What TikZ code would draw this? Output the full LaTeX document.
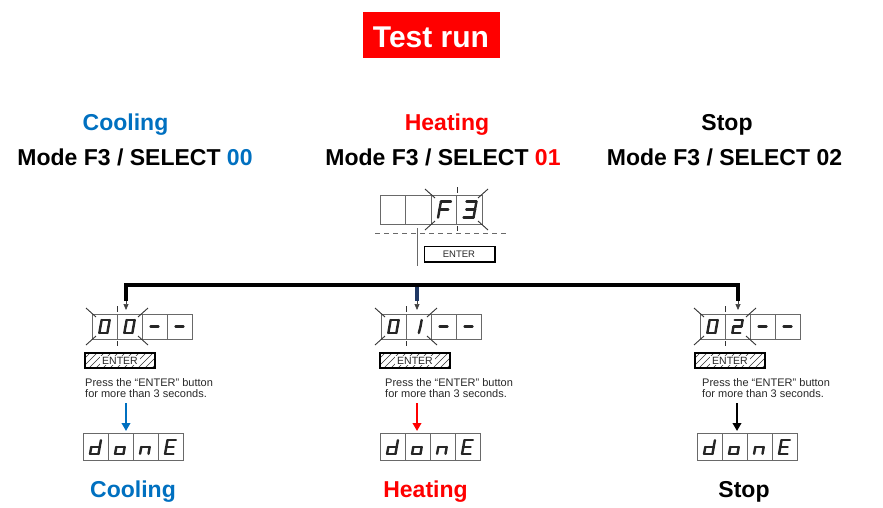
\documentclass[tikz,border=0pt]{standalone}
\usepackage{fontspec}
\setmainfont{Liberation Sans}
\usetikzlibrary{arrows.meta}
\definecolor{cblue}{RGB}{0,112,192}
\definecolor{cred}{RGB}{255,0,0}
\definecolor{cnavy}{RGB}{31,56,100}
\definecolor{cellgray}{RGB}{105,105,105}
\definecolor{txtgray}{RGB}{40,40,40}
% seven segment digit definitions (w=4, h=6.5; y downwards)
\def\sgZero{-4/-6.5/4/-6.5,4/-6.5/4/0,4/0/4/6.5,-4/6.5/4/6.5,-4/0/-4/6.5,-4/-6.5/-4/0}
\def\sgOne{2/-6.5/2/0,2/0/1.5/6.5}
\def\sgTwo{-4/-6.5/4/-6.5,4/-6.5/4/0,-4/0/4/0,-4/0/-4/6.5,-4/6.5/4/6.5}
\def\sgThree{-4/-6.5/4/-6.5,4/-6.5/4/0,-3/0/4/0,4/0/4/6.5,-4/6.5/4/6.5}
\def\sgF{-4/-6.5/4/-6.5,-4/-6.5/-4/0,-4/0/-4/6.5,-4/0/3/0}
\def\sgSmallD{4/-6.5/4/0,4/0/4/6.5,-4/6.5/4/6.5,-4/0/-4/6.5,-4/0/4/0}
\def\sgSmallO{-4/0/4/0,4/0/4/6.5,-4/6.5/4/6.5,-4/0/-4/6.5}
\def\sgSmallN{-4/0/4/0,4/0/4/6.5,-4/0/-4/6.5}
\def\sgE{-4/-6.5/4/-6.5,-4/-6.5/-4/0,-4/0/3/0,-4/0/-4/6.5,-4/6.5/4/6.5}
\def\sgDash{-4/0/4/0}
\newcommand\sdig[4]{%
  \begin{scope}[shift={(#1,#2)},scale=#4,xslant=0.18]
    \foreach \xa/\ya/\xb/\yb in #3 {\draw[seg] (\xa,\ya)--(\xb,\yb);}
  \end{scope}}
\newcommand\cells[5]{%
  \foreach \i in {1,...,#4} {\draw[cell] ({#1+(\i-1)*#3},#2) rectangle ++(#3,#5);}}
\newcommand\flash[5]{% x1 x2 xm y1 y2
  \draw[flashtick] ({#1+4},{#4+3})--({#1-6},{#4-6});
  \draw[flashtick] ({#2-4},{#4+3})--({#2+6},{#4-6});
  \draw[flashtick] ({#1+4},{#5-3})--({#1-6},{#5+6});
  \draw[flashtick] ({#2-4},{#5-3})--({#2+6},{#5+6});
  \draw[flashtick] (#3,{#4-8})--(#3,{#4-2});
  \draw[flashtick] (#3,{#5+2})--(#3,{#5+7});}
\newcommand\hatchbox[5]{% x1 y1 x2 y2 name
  \begin{scope}
    \clip (#1,#2) rectangle (#3,#4);
    \foreach \i in {0,7,...,91} {\draw[hatch] ({#1+\i-10},#4)--({#1+\i+5},#2);}
  \end{scope}
  \draw[line width=1.6pt] (#1,#2) rectangle (#3,#4);
  \node[hatchtxt,fill=white,inner xsep=2pt,inner ysep=0.5pt] (#5) at ({(#1+#3)/2},{(#2+#4)/2}) {ENTER};}
\tikzset{
  seg/.style={line width=2.4pt,line cap=round,line join=round,black!85},
  cell/.style={draw=cellgray,line width=0.7pt},
  flashtick/.style={draw=black!80,line width=0.9pt},
  hatch/.style={draw=black!80,line width=0.6pt},
  entertxt/.style={font=\fontsize{9.5}{10}\selectfont,text=txtgray},
  hatchtxt/.style={font=\fontsize{10.5}{11}\selectfont,text=txtgray},
  head/.style={font=\fontsize{23}{27}\selectfont\bfseries,anchor=base},
  press/.style={font=\fontsize{11}{12}\selectfont,text=txtgray,anchor=base west,inner sep=0pt},
  bus/.style={line width=4pt},
  busarrow/.style={line width=0.7pt,draw=black!75,-{Triangle[width=5pt,length=6pt,fill=black!75]}},
  bigarrow/.style={line width=2.6pt,-{Triangle[width=8.5pt,length=8pt]}},
}
\begin{document}
\begin{tikzpicture}[x=1pt,y=-1pt]
\useasboundingbox (0,0) rectangle (883,507);
% title
\fill[cred] (363,12) rectangle (500,58);
\node[font=\fontsize{30}{34}\selectfont\bfseries,text=white,anchor=base] (title) at (431,47) {Test run};
% headers
\node[head,text=cblue] (hcool) at (125.5,130) {Cooling};
\node[head] (mcool) at (135,165) {Mode F3 / SELECT \textcolor{cblue}{00}};
\node[head,text=cred] (hheat) at (447,130) {Heating};
\node[head] (mheat) at (443,165) {Mode F3 / SELECT \textcolor{cred}{01}};
\node[head] (hstop) at (727,130) {Stop};
\node[head] (mstop) at (724.5,165) {Mode F3 / SELECT 02};
% top display F3
\cells{380}{195}{25.5}{4}{29}
\sdig{444.5}{209.5}{\sgF}{1.25}
\sdig{470}{209.5}{\sgThree}{1.25}
\flash{431}{482}{457}{195}{224}
\draw[cellgray,line width=0.6pt,dash pattern=on 5pt off 4pt] (375,233.5)--(508,233.5);
\coordinate (vtop) at (417,228);
\coordinate (vbot) at (417,266);
\draw[cellgray,line width=0.7pt] (vtop)--(vbot);
\draw[line width=0.7pt] (424,246.5) rectangle (495,262);
\draw[line width=2pt] (424,262)--(495,262)--(495,246.5);
\node[entertxt] (topenter) at (459,254) {ENTER};
% bus
\coordinate (bL) at (126,301);
\coordinate (bLc) at (126,285);
\coordinate (bRc) at (738,285);
\coordinate (bR) at (738,301);
\draw[bus] (bL)--(bLc)--(bRc)--(bR);
\coordinate (bM0) at (417,287);
\coordinate (bM) at (417,301);
\draw[cnavy,line width=3.5pt] (bM0)--(bM);
\coordinate (tL) at (126,310);
\coordinate (tM) at (417,310);
\coordinate (tR) at (738,310);
\draw[busarrow] (bL)--(tL);
\draw[busarrow] (bM)--(tM);
\draw[busarrow] (bR)--(tR);
% ---------- left (cooling)
\cells{92}{314}{25}{4}{25}
\sdig{104.5}{326.5}{\sgZero}{1}
\sdig{129.5}{326.5}{\sgZero}{1}
\sdig{154.5}{326.5}{\sgDash}{1}
\sdig{179.5}{326.5}{\sgDash}{1}
\flash{92}{142}{117}{314}{339}
\hatchbox{85}{353}{155}{368}{entL}
\node[press] (pL1) at (85,386) {Press the “ENTER” button};
\node[press] (pL2) at (85,397.5) {for more than 3 seconds.};
\coordinate (aL0) at (126,403);
\coordinate (aL1) at (126,431);
\draw[bigarrow,cblue] (aL0)--(aL1);
\cells{83}{433}{25}{4}{27}
\sdig{95.5}{447}{\sgSmallD}{1.05}
\sdig{120.5}{447}{\sgSmallO}{1.05}
\sdig{145.5}{447}{\sgSmallN}{1.05}
\sdig{170.5}{447}{\sgE}{1.05}
\node[head,text=cblue] (bcool) at (133,497) {Cooling};
% ---------- middle (heating)
\cells{381}{314}{25}{4}{25}
\sdig{393.5}{326.5}{\sgZero}{1}
\sdig{418.5}{326.5}{\sgOne}{1}
\sdig{443.5}{326.5}{\sgDash}{1}
\sdig{468.5}{326.5}{\sgDash}{1}
\flash{381}{431}{406}{314}{339}
\hatchbox{380}{353}{450}{368}{entM}
\node[press] (pM1) at (385,386) {Press the “ENTER” button};
\node[press] (pM2) at (385,397.5) {for more than 3 seconds.};
\coordinate (aM0) at (417,403);
\coordinate (aM1) at (417,431);
\draw[bigarrow,cred] (aM0)--(aM1);
\cells{380}{433}{25}{4}{27}
\sdig{392.5}{447}{\sgSmallD}{1.05}
\sdig{417.5}{447}{\sgSmallO}{1.05}
\sdig{442.5}{447}{\sgSmallN}{1.05}
\sdig{467.5}{447}{\sgE}{1.05}
\node[head,text=cred] (bheat) at (425.5,497) {Heating};
% ---------- right (stop)
\cells{700}{314}{25}{4}{25}
\sdig{712.5}{326.5}{\sgZero}{1}
\sdig{737.5}{326.5}{\sgTwo}{1}
\sdig{762.5}{326.5}{\sgDash}{1}
\sdig{787.5}{326.5}{\sgDash}{1}
\flash{700}{750}{725}{314}{339}
\hatchbox{695}{353}{765}{368}{entR}
\node[press] (pR1) at (702,386) {Press the “ENTER” button};
\node[press] (pR2) at (702,397.5) {for more than 3 seconds.};
\coordinate (aR0) at (737,403);
\coordinate (aR1) at (737,431);
\draw[bigarrow,black] (aR0)--(aR1);
\cells{697}{433}{25}{4}{27}
\sdig{709.5}{447}{\sgSmallD}{1.05}
\sdig{734.5}{447}{\sgSmallO}{1.05}
\sdig{759.5}{447}{\sgSmallN}{1.05}
\sdig{784.5}{447}{\sgE}{1.05}
\node[head] (bstop) at (744,497) {Stop};
\end{tikzpicture}
\end{document}
